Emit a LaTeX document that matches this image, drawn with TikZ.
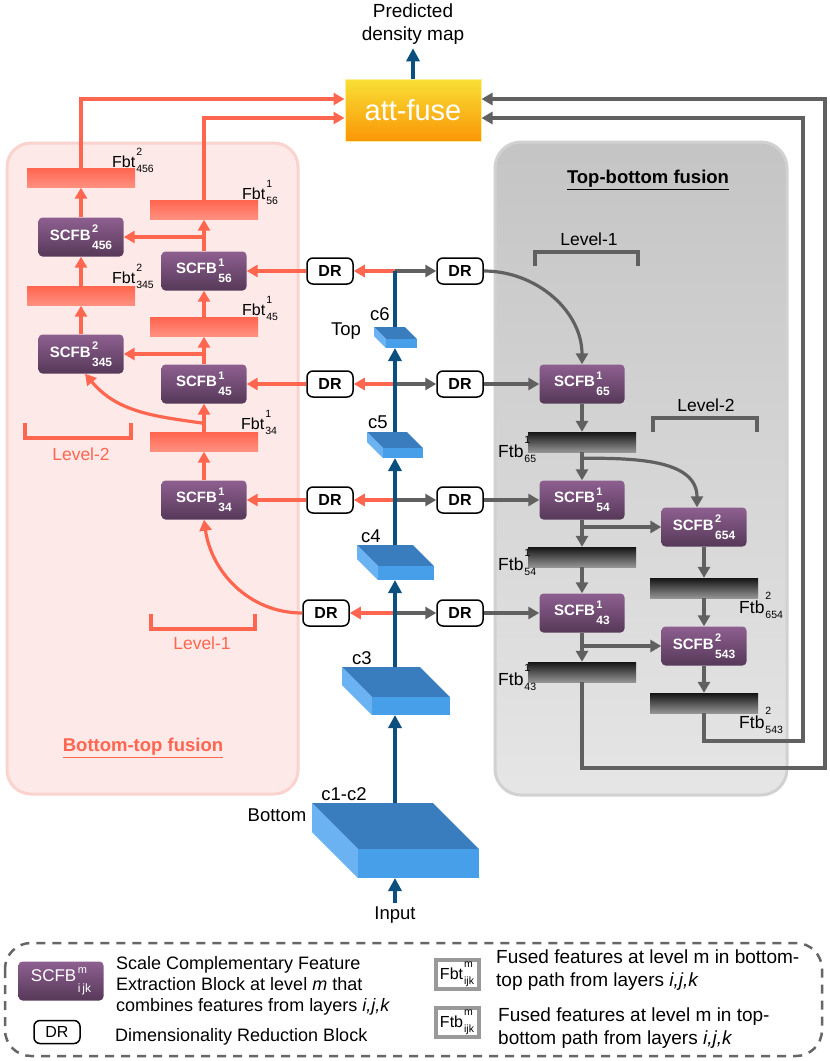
\documentclass[tikz,border=0pt]{standalone}
\usepackage{fontspec}
\setmainfont{Liberation Sans}
\usetikzlibrary{arrows.meta}
\definecolor{btred}{HTML}{FF6650}
\definecolor{btpink}{HTML}{FDE9E8}
\definecolor{btedge}{HTML}{FBD3CE}
\definecolor{tbgray}{HTML}{606060}
\definecolor{scfbtop}{HTML}{8E6090}
\definecolor{scfbbot}{HTML}{563858}
\definecolor{trunkblue}{HTML}{0B4F7F}
\definecolor{cubetop}{HTML}{3A7DBF}
\definecolor{cubefront}{HTML}{479FEA}
\definecolor{cubeside}{HTML}{6BB2F2}
\definecolor{fuseyel}{HTML}{F8DF36}
\definecolor{fuseorg}{HTML}{FB9606}

\newcommand{\fsz}[1]{\fontsize{#1}{\fpeval{1.25*#1}}\selectfont}
\newcommand{\scfbidx}[2]{\kern1.5pt\makebox[0pt][l]{\raisebox{0.5em}{\fsz{11}#1}}\raisebox{-0.6em}{\fsz{12}#2}}
\newcommand{\featidx}[2]{\kern1pt\makebox[0pt][l]{\raisebox{0.75em}{\fsz{10.5}#1}}\raisebox{-0.32em}{\fsz{10.5}#2}}
\def\trunkx{395}
% slab: name, back-left x, back y, width, depth, height
\newcommand{\slab}[6]{%
  \fill[cubetop] (#2,#3) -- ++(#4,0) -- ++(#5,#5) -- ++(-#4,0) -- cycle;
  \fill[cubeside] (#2,#3) -- ++(#5,#5) -- ++(0,#6) -- ++(-#5,-#5) -- cycle;
  \fill[cubefront] (#2+#5,#3+#5) rectangle ++(#4,#6);
  \coordinate (#1-t) at (\trunkx,#3);
  \coordinate (#1-b) at (\trunkx,#3+#5+#6);
}

\begin{document}
\begin{tikzpicture}[x=1pt, y=-1pt,
  every node/.style={font=\fsz{18.5}},
  scfb/.style={rounded corners=4pt, top color=scfbtop, bottom color=scfbbot,
               minimum width=85pt, minimum height=39pt, inner sep=0pt,
               text=white, font=\fsz{15}\bfseries},
  fbtbar/.style={top color=btred, bottom color=btred!72!white,
                 minimum width=108pt, minimum height=19pt, inner sep=0pt},
  ftbbar/.style={top color=black!92, bottom color=black!42,
                 minimum width=108pt, minimum height=20pt, inner sep=0pt},
  dr/.style={draw, line width=1.5pt, rounded corners=6pt, fill=white,
             minimum width=46pt, minimum height=26pt, inner sep=0pt,
             font=\fsz{16}\bfseries},
  fbtlab/.style={anchor=base west, inner sep=0pt, font=\fsz{16}},
  ftblab/.style={anchor=base west, inner sep=0pt, font=\fsz{17.5}},
  redarrow/.style={-{Triangle[length=11pt,width=12pt]}, line width=3.2pt, btred},
  grayarrow/.style={-{Triangle[length=11pt,width=12pt]}, line width=3.2pt, tbgray},
  trunk/.style={-{Triangle[length=13pt,width=13pt]}, line width=3.8pt, trunkblue},
  lvlred/.style={line width=3.5pt, btred},
  lvlgray/.style={line width=3.5pt, tbgray},
  legbox/.style={draw=black!40, line width=4pt, fill=white, minimum width=43pt,
                 minimum height=29pt, inner sep=0pt, font=\fsz{16}},
]
\useasboundingbox (0,0) rectangle (830,1061);
\fill[white] (0,0) rectangle (830,1061);

%% ── Panels ─────────────────────────────────────────────────────────────────
\draw[btedge, line width=3pt, fill=btpink, rounded corners=24pt] (7,143) rectangle (298,794);
\draw[black!18, line width=3pt, top color=black!23, bottom color=black!10,
      rounded corners=26pt] (495,142) rectangle (787,795);
\node[font=\fsz{18.5}\bfseries, btred] (bttitle) at (143,748) {\underline{Bottom-top fusion}};
\node[font=\fsz{18.5}\bfseries] (tbtitle) at (648,180) {\underline{Top-bottom fusion}};

%% ── Output ─────────────────────────────────────────────────────────────────
\node[draw=fuseyel!50!white, line width=1pt, top color=fuseyel, bottom color=fuseorg,
      minimum width=136pt, minimum height=62pt, text=white, font=\fsz{29}]
  (attfuse) at (413,110) {att-fuse};
\node[align=center, font=\fsz{19}] (pred) at (413,24) {Predicted\\density map};
\draw[trunk] (attfuse) -- (pred);

%% ── Backbone ───────────────────────────────────────────────────────────────
\slab{c6}{374}{327}{31}{12}{9}
\slab{c5}{367}{432}{40}{16}{10}
\slab{c4}{357}{545}{56}{21}{14}
\slab{c3}{342}{667}{78}{30}{18}
\slab{c12}{312}{803}{121}{46}{29}
\node (lc6)  at (380,314) {c6};
\node (ltop) at (346,331) {Top};
\node (lc5)  at (378,422) {c5};
\node (lc4)  at (371,536) {c4};
\node (lc3)  at (362,658) {c3};
\node (lc12) at (344,794) {c1-c2};
\node (lbot) at (277,815) {Bottom};
\node (input) at (395,915) {Input};

\coordinate (j1) at (\trunkx,271);
\coordinate (j2) at (\trunkx,384);
\coordinate (j3) at (\trunkx,500);
\coordinate (j4) at (\trunkx,613);

\node[dr] (drL1) at (330,271) {DR};
\node[dr] (drR1) at (460,271) {DR};
\node[dr] (drL2) at (330,384) {DR};
\node[dr] (drR2) at (460,384) {DR};
\node[dr] (drL3) at (330,500) {DR};
\node[dr] (drR3) at (460,500) {DR};
\node[dr] (drL4) at (326,613) {DR};
\node[dr] (drR4) at (460,613) {DR};

\foreach \r in {1,...,4}{
  \draw[redarrow]  (j\r) -- (drL\r);
  \draw[grayarrow] (j\r) -- (drR\r);
}

\draw[trunk] (input) -- (c12-b);
\draw[trunk] (c12-t) -- (c3-b);
\draw[trunk] (c3-t) -- (c4-b);
\draw[trunk] (c4-t) -- (c5-b);
\draw[trunk] (c5-t) -- (c6-b);
\draw[trunk, -] (c6-t) -- (j1);

%% ── Bottom-top path ────────────────────────────────────────────────────────
\node[fbtbar] (fbtA) at (81,178) {};
\node[scfb]   (scfbA) at (81,237) {SCFB\scfbidx{2}{456}};
\node[fbtbar] (fbtC) at (81,296) {};
\node[scfb]   (scfbC) at (81,354) {SCFB\scfbidx{2}{345}};
\node[fbtbar] (fbtB) at (204,210) {};
\node[scfb]   (scfbB) at (204,271) {SCFB\scfbidx{1}{56}};
\node[fbtbar] (fbtD) at (204,327) {};
\node[scfb]   (scfbD) at (204,384) {SCFB\scfbidx{1}{45}};
\node[fbtbar] (fbtE) at (204,442) {};
\node[scfb]   (scfbE) at (204,500) {SCFB\scfbidx{1}{34}};

\node[fbtlab] (lfbtA) at (112,167) {Fbt\featidx{2}{456}};
\node[fbtlab] (lfbtB) at (242,199) {Fbt\featidx{1}{56}};
\node[fbtlab] (lfbtC) at (112,283) {Fbt\featidx{2}{345}};
\node[fbtlab] (lfbtD) at (242,315) {Fbt\featidx{1}{45}};
\node[fbtlab] (lfbtE) at (241,429) {Fbt\featidx{1}{34}};

\draw[redarrow] (drL1) -- (scfbB);
\draw[redarrow] (drL2) -- (scfbD);
\draw[redarrow] (drL3) -- (scfbE);
\draw[redarrow] (drL4.west) to[out=180, in=-82] (scfbE.south);

\draw[redarrow] (scfbE) -- (fbtE);
\draw[redarrow] (fbtE) -- (scfbD);
\draw[redarrow] (scfbD) -- (fbtD);
\draw[redarrow] (fbtD) -- (scfbB);
\draw[redarrow] (scfbB) -- (fbtB);
\draw[redarrow] (scfbC) -- (fbtC);
\draw[redarrow] (fbtC) -- (scfbA);
\draw[redarrow] (scfbA) -- (fbtA);
\draw[redarrow] (scfbA.east -| scfbB.north) -- (scfbA.east);
\draw[redarrow] (scfbC.east -| scfbD.north) -- (scfbC.east);
\draw[redarrow] ([yshift=9pt]fbtE.north) to[out=172, in=-50] ([xshift=4pt]scfbC.south);

\draw[redarrow] (fbtA.north) |- ([yshift=11pt]attfuse.west);
\draw[redarrow] (fbtB.north) |- ([yshift=-8pt]attfuse.west);

\draw[lvlred] (25,423) |- (131,438) -- (131,423);
\node[btred, font=\fsz{17.5}] (lvlbt2) at (81,454) {Level-2};
\draw[lvlred] (151,614) |- (255,629) -- (255,614);
\node[btred, font=\fsz{17.5}] (lvlbt1) at (202,643) {Level-1};

%% ── Top-bottom path ────────────────────────────────────────────────────────
\node[scfb]   (scfbF) at (582,384) {SCFB\scfbidx{1}{65}};
\node[ftbbar] (ftbA) at (582,442) {};
\node[scfb]   (scfbG) at (582,500) {SCFB\scfbidx{1}{54}};
\node[ftbbar] (ftbB) at (582,557) {};
\node[scfb]   (scfbI) at (582,613) {SCFB\scfbidx{1}{43}};
\node[ftbbar] (ftbD) at (582,672) {};
\node[scfb]   (scfbH) at (704,527) {SCFB\scfbidx{2}{654}};
\node[ftbbar] (ftbC) at (704,588) {};
\node[scfb]   (scfbJ) at (704,646) {SCFB\scfbidx{2}{543}};
\node[ftbbar] (ftbE) at (704,703) {};

\node[ftblab] (lftbA) at (498,457) {Ftb\featidx{1}{65}};
\node[ftblab] (lftbB) at (498,570) {Ftb\featidx{1}{54}};
\node[ftblab] (lftbD) at (498,685) {Ftb\featidx{1}{43}};
\node[ftblab] (lftbC) at (739,613) {Ftb\featidx{2}{654}};
\node[ftblab] (lftbE) at (739,728) {Ftb\featidx{2}{543}};

\draw[grayarrow] (drR1.east) to[out=0, in=90] (scfbF.north);
\draw[grayarrow] (drR2) -- (scfbF);
\draw[grayarrow] (drR3) -- (scfbG);
\draw[grayarrow] (drR4) -- (scfbI);

\draw[grayarrow] (scfbF) -- (ftbA);
\draw[grayarrow] (ftbA) -- (scfbG);
\draw[grayarrow] (scfbG) -- (ftbB);
\draw[grayarrow] (ftbB) -- (scfbI);
\draw[grayarrow] (scfbI) -- (ftbD);
\draw[grayarrow] (scfbH) -- (ftbC);
\draw[grayarrow] (ftbC) -- (scfbJ);
\draw[grayarrow] (scfbJ) -- (ftbE);
\draw[grayarrow] ([yshift=-6pt]ftbA.south) to[out=0, in=90] ([xshift=-7pt]scfbH.north);
\draw[grayarrow] (scfbH.west -| scfbG.south) -- (scfbH.west);
\draw[grayarrow] (scfbJ.west -| scfbI.south) -- (scfbJ.west);

\coordinate (outerR) at (825,768);
\coordinate (innerR) at (803,741);
\draw[grayarrow] (ftbD.south) |- (outerR) |- ([yshift=11pt]attfuse.east);
\draw[grayarrow] (ftbE.south) |- (innerR) |- ([yshift=-8pt]attfuse.east);

\draw[lvlgray] (535,266) |- (638,252) -- (638,266);
\node[font=\fsz{17.5}] (lvltb1) at (589,239) {Level-1};
\draw[lvlgray] (653,432) |- (757,418) -- (757,432);
\node[font=\fsz{17.5}] (lvltb2) at (706,405) {Level-2};

%% ── Legend ─────────────────────────────────────────────────────────────────
\draw[black!60, line width=2.5pt, dash pattern=on 9pt off 7pt, rounded corners=26pt]
  (5,943) rectangle (822,1056);
\node[scfb, font=\fsz{17}] (legscfb) at (61,981) {SCFB\scfbidx{m}{i\,jk}};
\node[anchor=north west, align=left, inner sep=0pt, font=\fontsize{18}{21}\selectfont]
  (legscfbtxt) at (116,956)
  {Scale Complementary Feature\\Extraction Block at level \textit{m} that\\combines features from layers \textit{i,j,k}};
\node[dr, font=\fsz{16}, minimum height=23pt] (legdr) at (57,1032) {DR};
\node[anchor=base west, inner sep=0pt, font=\fsz{18}] (legdrtxt) at (115,1041) {Dimensionality Reduction Block};
\node[legbox] (legfbt) at (457,974) {Fbt\featidx{m}{ijk}};
\node[anchor=north west, align=left, inner sep=0pt, font=\fontsize{19}{23}\selectfont]
  (legfbttxt) at (496,950) {Fused features at level m in bottom-\\top path from layers \textit{i,j,k}};
\node[legbox] (legftb) at (457,1022) {Ftb\featidx{m}{ijk}};
\node[anchor=north west, align=left, inner sep=0pt, font=\fontsize{19}{23}\selectfont]
  (legftbtxt) at (498,1008) {Fused features at level m in top-\\bottom path from layers \textit{i,j,k}};

\end{tikzpicture}
\end{document}
